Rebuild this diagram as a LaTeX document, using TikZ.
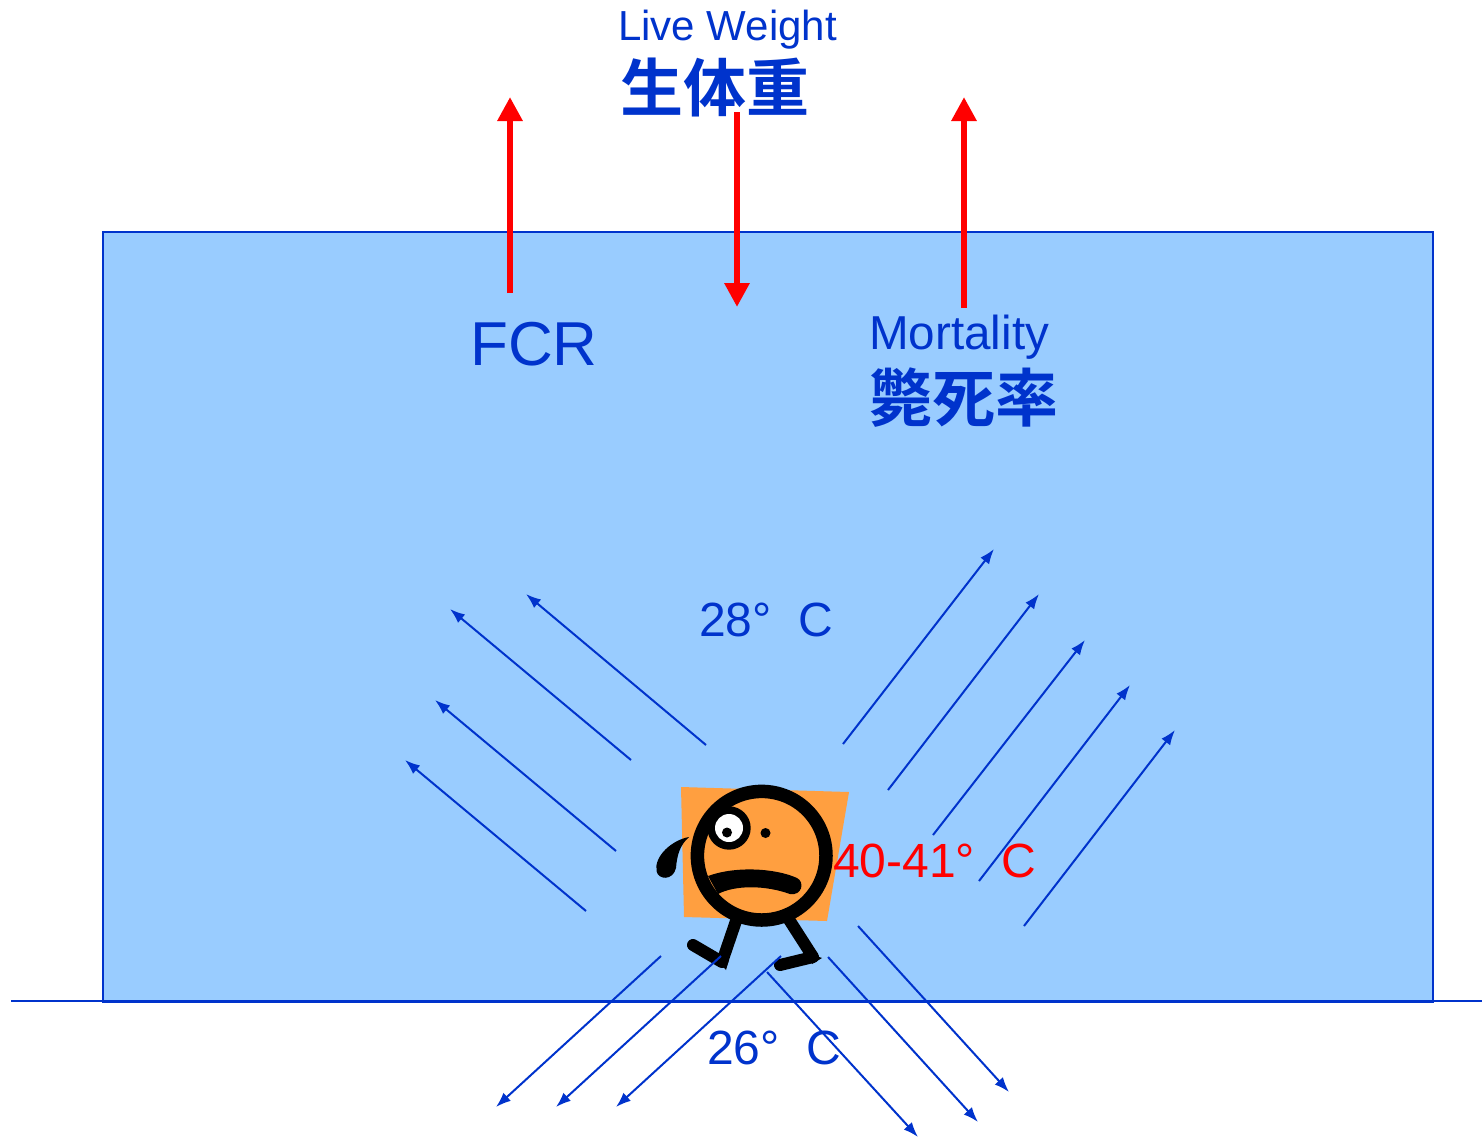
\documentclass[tikz,border=0pt]{standalone}
\usepackage{fontspec}
\setmainfont{Liberation Sans}
\newfontfamily\cjkbold[BoldFont={Noto Sans CJK JP Bold}]{Noto Sans CJK JP Bold}
\usetikzlibrary{arrows.meta}
\definecolor{wallblue}{HTML}{0033CC}
\definecolor{roomblue}{HTML}{99CCFF}
\definecolor{skin}{HTML}{FF9F40}
\tikzset{
  label text/.style={inner sep=0pt,anchor=base west,text=wallblue},
  heat text/.style={inner sep=0pt,anchor=base west,text=red},
  trend/.style={red,line width=6.5pt,-{Triangle[length=24pt,width=24pt]}},
  flow/.style={wallblue,line width=2pt,-{Latex[length=15pt,width=11pt]}},
  ink/.style={black,line cap=butt,line join=miter}
}
\begin{document}
\begin{tikzpicture}[x=1pt,y=-1pt]
\useasboundingbox (0,0) rectangle (1482,1138);

% room and ground line
\node[draw=wallblue,fill=roomblue,line width=2pt,minimum width=1330pt,minimum height=770pt,inner sep=0pt,anchor=north west] (room) at (102,231) {};
\coordinate (groundL) at (11,1001);
\coordinate (groundR) at (1482,1001);
\draw[wallblue,line width=2pt] (groundL) -- (groundR);

% figure: backing shape, head, eye, mouth, sweat drop, legs
\fill[skin] (681,787) -- (849,792) -- (827,921) -- (684,917) -- cycle;
\draw[ink,line width=5pt,fill=black] (665,868) ;
\draw[black,line width=13.5pt,fill=skin] (761.7,855.7) circle (64.3);
\fill[black] (729,828) circle (21.7);
\fill[white] (729,828) circle (14);
\fill[black] (727,832.5) circle (5);
\fill[black] (765.5,833) circle (5);
\fill[black] (708,876) .. controls (735,866) and (775,868) .. (797,878)
  .. controls (805,882) and (802,896) .. (790,894)
  .. controls (765,885) and (735,885) .. (718,894) -- cycle;
\fill[black] (689,837) .. controls (672,840) and (654,856) .. (656.5,871)
  .. controls (658,880) and (673,881) .. (676,868)
  .. controls (677,855) and (680,845) .. (689,837) -- cycle;
\draw[ink,line width=12pt] (737,918) -- (722,962);
\draw[ink,line width=12pt,line cap=round] (722,962) -- (693,945);
\fill[black] (716.5,959) -- (726,970) -- (729,960) -- cycle;
\draw[ink,line width=12pt] (788,918) -- (813,957);
\draw[black,line width=12pt,line cap=round] (813,957) -- (780,965);
\fill[black] (806,952) -- (822,958) -- (812,964) -- cycle;

% red trends
\coordinate (fcrS) at (510,293);   \coordinate (fcrE) at (510,97);
\coordinate (lwS) at (737,112);    \coordinate (lwE) at (737,307);
\coordinate (morS) at (964,308);   \coordinate (morE) at (964,97);
\draw[trend] (fcrS) -- (fcrE);
\draw[trend] (lwS) -- (lwE);
\draw[trend] (morS) -- (morE);

% heat flow, upper left
\coordinate (ula) at (706,745); \coordinate (ulA) at (526,594);
\coordinate (ulb) at (631,760); \coordinate (ulB) at (450,609);
\coordinate (ulc) at (616,851); \coordinate (ulC) at (435,700);
\coordinate (uld) at (586,911); \coordinate (ulD) at (405,760);
\draw[flow] (ula) -- (ulA);
\draw[flow] (ulb) -- (ulB);
\draw[flow] (ulc) -- (ulC);
\draw[flow] (uld) -- (ulD);

% heat flow, upper right
\coordinate (ura) at (843,744);  \coordinate (urA) at (994,549);
\coordinate (urb) at (888,790);  \coordinate (urB) at (1039,594);
\coordinate (urc) at (933,835);  \coordinate (urC) at (1085,640);
\coordinate (urd) at (979,881);  \coordinate (urD) at (1130,685);
\coordinate (ure) at (1024,926); \coordinate (urE) at (1175,730);
\draw[flow] (ura) -- (urA);
\draw[flow] (urb) -- (urB);
\draw[flow] (urc) -- (urC);
\draw[flow] (urd) -- (urD);
\draw[flow] (ure) -- (urE);

% heat flow, towards the floor
\coordinate (bla) at (661,956); \coordinate (blA) at (496,1107);
\coordinate (blb) at (721,956); \coordinate (blB) at (556,1107);
\coordinate (blc) at (781,956); \coordinate (blC) at (616,1107);
\coordinate (bra) at (767,972); \coordinate (brA) at (918,1137);
\coordinate (brb) at (828,957); \coordinate (brB) at (978,1122);
\coordinate (brc) at (858,926); \coordinate (brC) at (1009,1092);
\draw[flow] (bla) -- (blA);
\draw[flow] (blb) -- (blB);
\draw[flow] (blc) -- (blC);
\draw[flow] (bra) -- (brA);
\draw[flow] (brb) -- (brB);
\draw[flow] (brc) -- (brC);

% labels
\node[label text,font=\fontsize{42}{42}\selectfont] (lw) at (618,40) {Live Weight};
\node[label text,font=\cjkbold\fontsize{63}{63}\selectfont] (lwj) at (620,111) {生体重};
\node[label text,font=\fontsize{62}{62}\selectfont] (fcr) at (470,365) {FCR};
\node[label text,font=\fontsize{47.6}{48}\selectfont] (mor) at (869,349) {Mortality};
\node[label text,font=\cjkbold\fontsize{63}{63}\selectfont] (morj) at (869,421) {斃死率};
\node[label text,font=\fontsize{48}{48}\selectfont] (top) at (699,636) {28°\ \ C};
\node[heat text,font=\fontsize{48}{48}\selectfont] (skinT) at (833,877) {40-41°\ \ C};
\node[label text,font=\fontsize{48}{48}\selectfont] (floor) at (707,1064) {26°\ \ C};
\end{tikzpicture}
\end{document}
